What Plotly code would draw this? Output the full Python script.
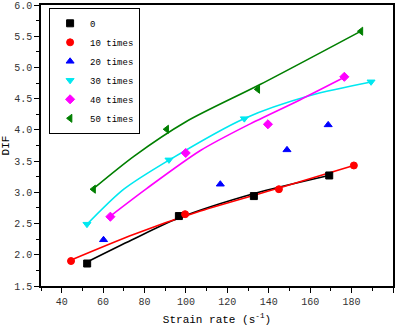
import plotly.graph_objects as go

# --- data ---
series_names = ["0", "10 times", "20 times", "30 times", "40 times", "50 times"]
x_0 = [52.3, 96.6, 132.8, 169.2]
y_0 = [1.86, 2.62, 2.94, 3.27]
x_10 = [44.5, 99.6, 144.9, 181.1]
y_10 = [1.90, 2.65, 3.05, 3.43]
x_20 = [60.2, 116.6, 148.8, 168.7]
y_20 = [2.24, 3.13, 3.68, 4.08]
x_30 = [52.2, 91.8, 128.2, 189.4]
y_30 = [2.49, 3.52, 4.18, 4.77]
x_40 = [63.5, 99.9, 139.6, 176.5]
y_40 = [2.61, 3.63, 4.09, 4.85]
x_50 = [55.4, 90.7, 134.7, 184.5]
y_50 = [3.05, 4.01, 4.65, 5.58]

# fitted trend curves
fit_x_0 = [52, 74, 96, 133, 169]
fit_y_0 = [1.88, 2.24, 2.58, 2.98, 3.27]
fit_x_10 = [44, 75, 107, 145, 181]
fit_y_10 = [1.91, 2.33, 2.70, 3.07, 3.43]
fit_x_30 = [52, 70, 92, 128, 160, 190]
fit_y_30 = [2.48, 3.05, 3.52, 4.18, 4.55, 4.77]
fit_x_40 = [63.5, 81, 107, 130, 155, 177]
fit_y_40 = [2.62, 3.06, 3.67, 4.08, 4.48, 4.85]
fit_x_50 = [55, 75, 100, 136, 185]
fit_y_50 = [3.05, 3.58, 4.13, 4.73, 5.59]

x_ticks = [40, 60, 80, 100, 120, 140, 160, 180, 200]
y_ticks = [1.5, 2.0, 2.5, 3.0, 3.5, 4.0, 4.5, 5.0, 5.5, 6.0]

colors = ["#000000", "#FF0000", "#0000FF", "#00E8F0", "#FF00FF", "#007F00"]
symbols = ["square", "circle", "triangle-up", "triangle-down", "diamond", "triangle-left"]

pts = [(x_0, y_0), (x_10, y_10), (x_20, y_20), (x_30, y_30), (x_40, y_40), (x_50, y_50)]
fits = [(fit_x_0, fit_y_0), (fit_x_10, fit_y_10), None,
        (fit_x_30, fit_y_30), (fit_x_40, fit_y_40), (fit_x_50, fit_y_50)]

FONT = "Liberation Mono"

fig = go.Figure()
for i, f in enumerate(fits):
    if f is None:
        continue
    fig.add_trace(go.Scatter(x=f[0], y=f[1], mode="lines", showlegend=False,
                             line=dict(color=colors[i], width=1.6, shape="spline",
                                       smoothing=0.8),
                             hoverinfo="skip"))
for i, (xs, ys) in enumerate(pts):
    fig.add_trace(go.Scatter(x=xs, y=ys, mode="markers", name=series_names[i],
                             marker=dict(symbol=symbols[i], size=7, color=colors[i],
                                         line=dict(color=colors[i], width=1))))

axis_common = dict(showline=True, linecolor="black", linewidth=1.5, mirror=True,
                   ticks="outside", ticklen=5, tickwidth=1, tickcolor="black",
                   showgrid=False, zeroline=False, automargin=False,
                   tickfont=dict(family=FONT, size=10, color="#333333"))
fig.update_xaxes(range=[30, 200], tickvals=x_ticks,
                 ticktext=[str(v) for v in x_ticks],
                 minor=dict(ticks="outside", ticklen=3, dtick=10, tick0=30,
                            tickcolor="black", showgrid=False),
                 title=dict(text="Strain rate (s<sup>-1</sup>)",
                            font=dict(family=FONT, size=11, color="black")),
                 **axis_common)
fig.update_yaxes(range=[1.5, 6.0], tickvals=y_ticks,
                 ticktext=[f"{v:.1f}" for v in y_ticks],
                 minor=dict(ticks="outside", ticklen=3, dtick=0.25, tick0=1.5,
                            tickcolor="black", showgrid=False),
                 title=dict(text="DIF", font=dict(family=FONT, size=11, color="black")),
                 **axis_common)

fig.update_layout(
    width=401, height=326,
    margin=dict(l=41, r=8, t=5, b=40),
    paper_bgcolor="white", plot_bgcolor="white",
    legend=dict(x=0.023, y=0.99, xanchor="left", yanchor="top",
                bordercolor="black", borderwidth=1, bgcolor="white",
                font=dict(family=FONT, size=9, color="black"),
                itemwidth=30, tracegroupgap=0),
)
fig.write_html("out.html",
               config={"displayModeBar": False},
               post_script="document.body.style.margin='0px';"
                           "document.body.style.overflow='hidden';")
